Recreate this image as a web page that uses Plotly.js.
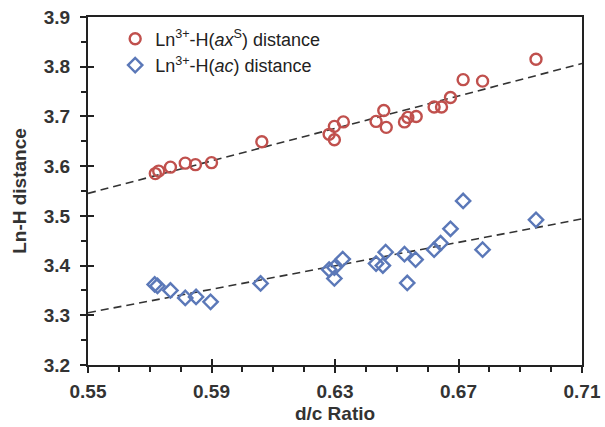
<!DOCTYPE html>
<html>
<head>
<meta charset="utf-8">
<script src="https://cdn.plot.ly/plotly-3.0.1.min.js"></script>
<style>html,body{margin:0;padding:0;background:#fff;}#chart{width:605px;height:427px;}</style>
</head>
<body>
<div id="chart"></div>
<script>
// d/c ratio values (Ln3+-H(axS) series)
const dcRatio = [0.5718, 0.5729, 0.5767, 0.5815, 0.5848, 0.5900, 0.6063,
  0.6281, 0.6298, 0.6298, 0.6327, 0.6433, 0.6458, 0.6466, 0.6525, 0.6536,
  0.6563, 0.6621, 0.6645, 0.6674, 0.6715, 0.6778, 0.6951];
// Ln3+-H(axS) distance
const axDist = [3.585, 3.590, 3.598, 3.606, 3.603, 3.607, 3.649,
  3.664, 3.680, 3.653, 3.689, 3.690, 3.712, 3.678, 3.689, 3.698,
  3.700, 3.719, 3.719, 3.738, 3.774, 3.771, 3.815];
// d/c ratio values (Ln3+-H(ac) series)
const acX = [0.5716, 0.5725, 0.5767, 0.5815, 0.5850, 0.5897, 0.6059,
  0.6281, 0.6298, 0.6298, 0.6325, 0.6433, 0.6455, 0.6464, 0.6525, 0.6534,
  0.6561, 0.6621, 0.6642, 0.6674, 0.6715, 0.6778, 0.6951];
// Ln3+-H(ac) distance
const acDist = [3.362, 3.359, 3.350, 3.335, 3.337, 3.327, 3.364,
  3.392, 3.396, 3.374, 3.413, 3.404, 3.400, 3.427, 3.423, 3.365,
  3.412, 3.432, 3.445, 3.474, 3.530, 3.432, 3.492];

const xTicks = [0.55, 0.59, 0.63, 0.67, 0.71];
const xTickText = ['0.55', '0.59', '0.63', '0.67', '0.71'];
const xRange = [0.55, 0.71];
const yRange = [3.2, 3.9];

function fit(xs, ys) {
  const n = xs.length;
  const mx = xs.reduce((a, b) => a + b, 0) / n;
  const my = ys.reduce((a, b) => a + b, 0) / n;
  let sxy = 0, sxx = 0;
  for (let i = 0; i < n; i++) { sxy += (xs[i] - mx) * (ys[i] - my); sxx += (xs[i] - mx) ** 2; }
  const b = sxy / sxx, a = my - b * mx;
  return xRange.map(x => a + b * x);
}

const red = '#C0504D', blue = '#5B78B8';
const fam = 'Liberation Sans, Arial, sans-serif';
const tickFont = {family: fam, size: 19, color: '#333', weight: 'bold'};
const titleFont = {family: fam, size: 19, color: '#333', weight: 'bold'};

const traces = [
  {x: xRange, y: fit(dcRatio, axDist), mode: 'lines', line: {color: '#333', width: 1.6, dash: '8px,5px'}, showlegend: false, hoverinfo: 'skip'},
  {x: xRange, y: fit(acX, acDist), mode: 'lines', line: {color: '#333', width: 1.6, dash: '8px,5px'}, showlegend: false, hoverinfo: 'skip'},
  {x: dcRatio, y: axDist, mode: 'markers', name: 'Ln<sup>3+</sup>-H(<i>ax</i><sup>S</sup>) distance',
   marker: {symbol: 'circle-open', size: 11, color: red, line: {width: 2.4, color: red}}},
  {x: acX, y: acDist, mode: 'markers', name: 'Ln<sup>3+</sup>-H(<i>ac</i>) distance',
   marker: {symbol: 'diamond-open', size: 11, color: blue, line: {width: 2.4, color: blue}}},
  {x: [], y: [], xaxis: 'x2', yaxis: 'y2', showlegend: false}
];

const layout = {
  width: 605, height: 427,
  margin: {l: 88, r: 23, t: 17, b: 62},
  paper_bgcolor: '#fff', plot_bgcolor: '#fff',
  showlegend: true,
  legend: {x: 0.055, y: 0.99, xanchor: 'left', yanchor: 'top', bgcolor: 'rgba(0,0,0,0)',
    font: {family: fam, size: 18, color: '#222'}, tracegroupgap: 0, itemwidth: 30},
  xaxis: {range: xRange, tickvals: xTicks, ticktext: xTickText,
    ticks: 'outside', ticklen: 6, tickwidth: 2, tickcolor: '#222',
    minor: {dtick: 0.01, tick0: 0.55, ticks: 'outside', ticklen: 5, tickwidth: 2, tickcolor: '#222', showgrid: false},
    showline: true, linewidth: 2, linecolor: '#222', mirror: true, showgrid: false, zeroline: false,
    tickfont: tickFont, ticklabelstandoff: 2,
    title: {text: 'd/c Ratio', font: titleFont, standoff: 6}},
  yaxis: {range: yRange, dtick: 0.1, tick0: 3.2, tickformat: '.1f',
    ticks: 'outside', ticklen: 6, tickwidth: 2, tickcolor: '#222',
    minor: {dtick: 0.05, tick0: 3.2, ticks: 'outside', ticklen: 5, tickwidth: 2, tickcolor: '#222', showgrid: false},
    showline: true, linewidth: 2, linecolor: '#222', mirror: true, showgrid: false, zeroline: false,
    tickfont: tickFont, ticklabelstandoff: 6,
    title: {text: 'Ln-H distance', font: titleFont, standoff: 12}},
  xaxis2: {overlaying: 'x', range: xRange, tickvals: xTicks, ticks: 'inside', ticklen: 6, tickwidth: 2,
    tickcolor: '#222', showticklabels: false, showgrid: false, zeroline: false, side: 'bottom', anchor: 'y2'},
  yaxis2: {overlaying: 'y', range: yRange, dtick: 0.1, tick0: 3.2, ticks: 'inside', ticklen: 6, tickwidth: 2,
    tickcolor: '#222', showticklabels: false, showgrid: false, zeroline: false, side: 'left', anchor: 'x2'}
};

Plotly.newPlot('chart', traces, layout, {displayModeBar: false, staticPlot: true});
</script>
</body>
</html>
